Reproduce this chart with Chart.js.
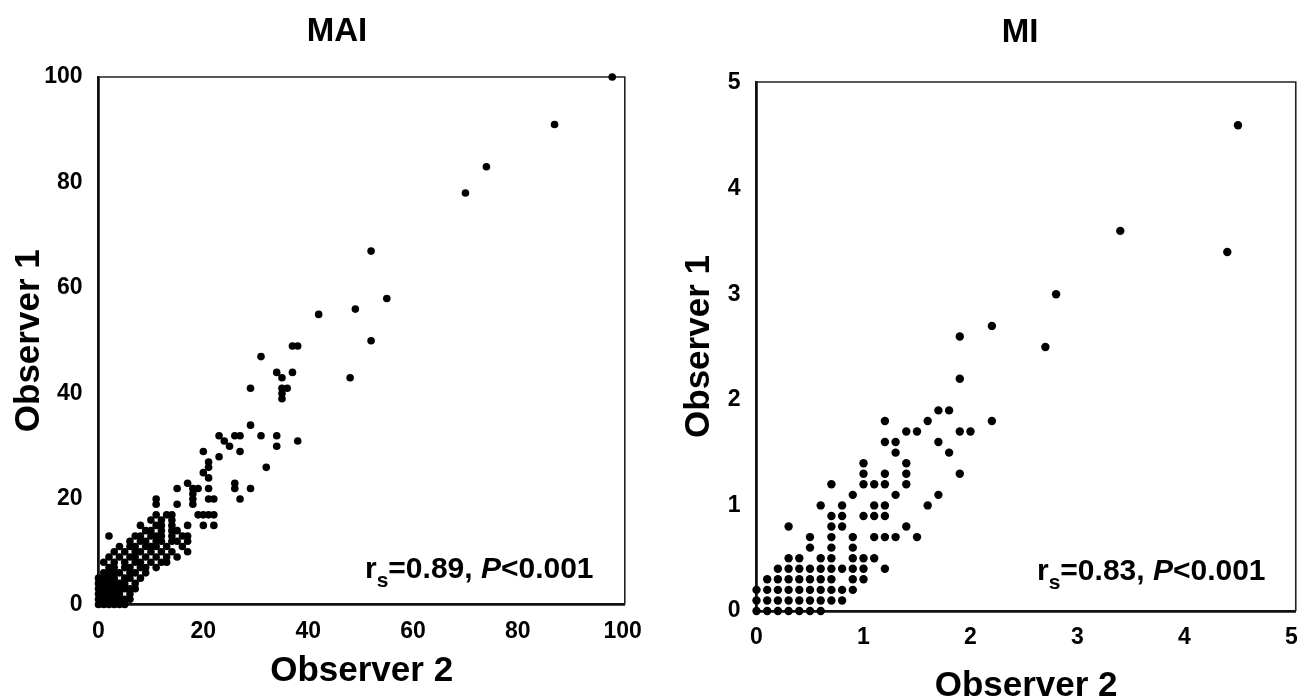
<!DOCTYPE html>
<html>
<head>
<meta charset="utf-8">
<script src="https://cdn.jsdelivr.net/npm/chart.js@4.4.1/dist/chart.umd.min.js"></script>
<style>
  html, body { margin: 0; padding: 0; background: #fff; }
  body { width: 1311px; height: 697px; position: relative; overflow: hidden; }
  canvas { position: absolute; top: 0; }
  #chartMAI { left: 0; }
  #chartMI { left: 655px; }
</style>
</head>
<body>
<canvas id="chartMAI" width="655" height="697"></canvas>
<canvas id="chartMI" width="656" height="697"></canvas>
<script>
const FONT = '"Liberation Sans", Arial, Helvetica, sans-serif';

// Each row: [Observer 1 value, [Observer 2 values scored with it]]
const maiRows = [
  [0, [0, 1, 2, 3, 4, 5]],
  [1, [0, 1, 2, 3, 4, 5, 6]],
  [2, [0, 1, 2, 3, 4, 6]],
  [3, [0, 1, 2, 3, 4, 5, 6, 7]],
  [4, [0, 1, 2, 3, 4, 5, 7]],
  [5, [0, 1, 2, 3, 5, 6, 8]],
  [6, [1, 2, 3, 4, 6, 7, 9]],
  [7, [2, 3, 5, 6, 8, 9, 11]],
  [8, [1, 3, 5, 7, 8, 10, 12, 13]],
  [9, [2, 4, 6, 7, 9, 11, 13, 15]],
  [10, [3, 5, 7, 8, 10, 12, 14, 17]],
  [11, [4, 6, 7, 9, 10, 11, 13, 16]],
  [12, [6, 8, 9, 11, 12, 14, 15, 17]],
  [13, [2, 7, 8, 10, 11, 12, 14, 16, 17]],
  [14, [9, 10, 12, 14, 15]],
  [15, [8, 11, 12, 14, 17, 20, 22]],
  [16, [10, 12, 14]],
  [17, [11, 13, 14, 19, 20, 21, 22]],
  [19, [11, 15, 18]],
  [20, [11, 18, 21, 22, 27]],
  [21, [18]],
  [22, [15, 18, 19, 21, 26, 29]],
  [23, [17, 26]],
  [24, [21]],
  [25, [20]],
  [26, [21, 32]],
  [27, [21]],
  [28, [23]],
  [29, [20, 27]],
  [30, [25, 34]],
  [31, [24, 38]],
  [32, [23, 26, 27, 31, 34]],
  [34, [29]],
  [39, [35]],
  [40, [35]],
  [41, [29, 35, 36]],
  [43, [35, 48]],
  [44, [34, 37]],
  [47, [31]],
  [49, [37, 38]],
  [50, [52]],
  [55, [42]],
  [56, [49]],
  [58, [55]],
  [67, [52]],
  [78, [70]],
  [83, [74]],
  [91, [87]],
  [100, [98]]
];

const miRows = [
  [0, [0, 0.1, 0.2, 0.3, 0.4, 0.5, 0.6]],
  [0.1, [0, 0.1, 0.2, 0.3, 0.4, 0.5, 0.6, 0.7, 0.8]],
  [0.2, [0, 0.1, 0.2, 0.3, 0.4, 0.5, 0.6, 0.7, 0.8, 0.9]],
  [0.3, [0.1, 0.2, 0.3, 0.4, 0.5, 0.6, 0.7, 0.9, 1.0]],
  [0.4, [0.2, 0.3, 0.4, 0.5, 0.6, 0.7, 0.8, 0.9, 1.0, 1.2]],
  [0.5, [0.3, 0.4, 0.6, 0.7, 0.9, 1.0, 1.1]],
  [0.6, [0.5, 0.7, 0.9]],
  [0.7, [0.5, 0.7, 0.9, 1.1, 1.2, 1.3, 1.5]],
  [0.8, [0.3, 0.7, 0.8, 1.4]],
  [0.9, [0.7, 0.8, 1.0, 1.1, 1.2]],
  [1.0, [0.6, 0.8, 1.1, 1.2, 1.6]],
  [1.1, [0.9, 1.3, 1.7]],
  [1.2, [0.7, 1.0, 1.1, 1.2, 1.4]],
  [1.3, [1.0, 1.2, 1.4, 1.9]],
  [1.4, [1.0, 1.4]],
  [1.5, [1.3, 1.8]],
  [1.6, [1.2, 1.3, 1.7]],
  [1.7, [1.4, 1.5, 1.9, 2.0]],
  [1.8, [1.2, 1.6, 2.2]],
  [1.9, [1.7, 1.8]],
  [2.2, [1.9]],
  [2.5, [2.7]],
  [2.6, [1.9]],
  [2.7, [2.2]],
  [3.0, [2.8]],
  [3.4, [4.4]],
  [3.6, [3.4]],
  [4.6, [4.5]]
];

const maiTicks = [0, 20, 40, 60, 80, 100];
const miTicks = [0, 1, 2, 3, 4, 5];
const panelTitles = ['MAI', 'MI'];
const spearmanR = ['0.89', '0.83'];
const pValue = '<0.001';

const toPoints = rows => rows.flatMap(([y, xs]) => xs.map(x => ({ x, y })));
const bold = size => `bold ${size}px ${FONT}`;

// thin top/right edges of the plot box
const framePlugin = {
  id: 'frame',
  beforeDatasetsDraw(chart) {
    const { ctx, chartArea: a } = chart;
    ctx.save();
    ctx.strokeStyle = '#222';
    ctx.lineWidth = 1.6;
    ctx.beginPath();
    ctx.moveTo(a.left, a.top);
    ctx.lineTo(a.right, a.top);
    ctx.lineTo(a.right, a.bottom);
    ctx.stroke();
    ctx.restore();
  }
};

// panel heading and the r_s / P line
const labelPlugin = {
  id: 'labels',
  afterDraw(chart, args, o) {
    const ctx = chart.ctx;
    ctx.save();
    ctx.fillStyle = '#000';
    ctx.textBaseline = 'alphabetic';
    ctx.font = bold(33);
    ctx.textAlign = 'center';
    ctx.fillText(o.title, o.titleX, o.titleY);

    ctx.textAlign = 'left';
    let x = o.statX;
    const put = (txt, font, dy) => {
      ctx.font = font;
      ctx.fillText(txt, x, o.statY + dy);
      x += ctx.measureText(txt).width;
    };
    put('r', bold(30), 0);
    put('s', bold(21), 9);
    put(`=${o.rho}, `, bold(30), 0);
    put('P', `italic bold 30px ${FONT}`, 0);
    put(pValue, bold(30), 0);
    ctx.restore();
  }
};

function buildPanel(id, cfg) {
  const tickFont = { family: FONT, size: 23, weight: 'bold' };
  const titleFont = { family: FONT, size: 35, weight: 'bold', lineHeight: 0.5 };
  return new Chart(document.getElementById(id), {
    type: 'scatter',
    data: {
      datasets: [{
        data: toPoints(cfg.rows),
        pointRadius: cfg.dot, pointHoverRadius: cfg.dot,
        pointBackgroundColor: '#000', pointBorderWidth: 0, clip: false
      }]
    },
    options: {
      responsive: false, animation: false, events: [],
      layout: { padding: cfg.pad },
      plugins: {
        legend: { display: false }, tooltip: { enabled: false },
        labels: cfg.labels
      },
      scales: {
        x: {
          type: 'linear', min: 0, max: cfg.xMax,
          afterBuildTicks: s => { s.ticks = cfg.ticks.map(value => ({ value })); },
          afterFit: s => { s.height = cfg.xAxisH; },
          grid: { display: false, drawTicks: false },
          border: { display: true, color: '#111', width: 2.8 },
          ticks: { color: '#000', font: tickFont, padding: cfg.xTickPad, maxRotation: 0, autoSkip: false },
          title: { display: true, text: 'Observer 2', color: '#000', font: titleFont, padding: { top: 0, bottom: cfg.xTitlePad } }
        },
        y: {
          type: 'linear', min: 0, max: cfg.yMax,
          afterBuildTicks: s => { s.ticks = cfg.ticks.map(value => ({ value })); },
          afterFit: s => { s.width = cfg.yAxisW; },
          grid: { display: false, drawTicks: false },
          border: { display: true, color: '#111', width: 2.8 },
          ticks: { color: '#000', font: tickFont, padding: 16, autoSkip: false },
          title: { display: true, text: 'Observer 1', color: '#000', font: titleFont, padding: { top: cfg.yTitlePad, bottom: 0 } }
        }
      }
    },
    plugins: [framePlugin, labelPlugin]
  });
}

buildPanel('chartMAI', {
  rows: maiRows, ticks: maiTicks, dot: 3.8,
  xMax: 100.4, yMax: 100,
  pad: { left: 0, top: 77, right: 26, bottom: 0 },
  yAxisW: 98.5, xAxisH: 92.5, xTickPad: 13,
  xTitlePad: 17, yTitlePad: 21,
  labels: { title: panelTitles[0], titleX: 337, titleY: 41, rho: spearmanR[0], statX: 365, statY: 578 }
});

buildPanel('chartMI', {
  rows: miRows, ticks: miTicks, dot: 4.2,
  xMax: 5.04, yMax: 5.01,
  pad: { left: 0, top: 82, right: 15, bottom: 0 },
  yAxisW: 101.5, xAxisH: 86, xTickPad: 13,
  xTitlePad: 2, yTitlePad: 36,
  labels: { title: panelTitles[1], titleX: 365, titleY: 42, rho: spearmanR[1], statX: 382, statY: 580 }
});
</script>
</body>
</html>
